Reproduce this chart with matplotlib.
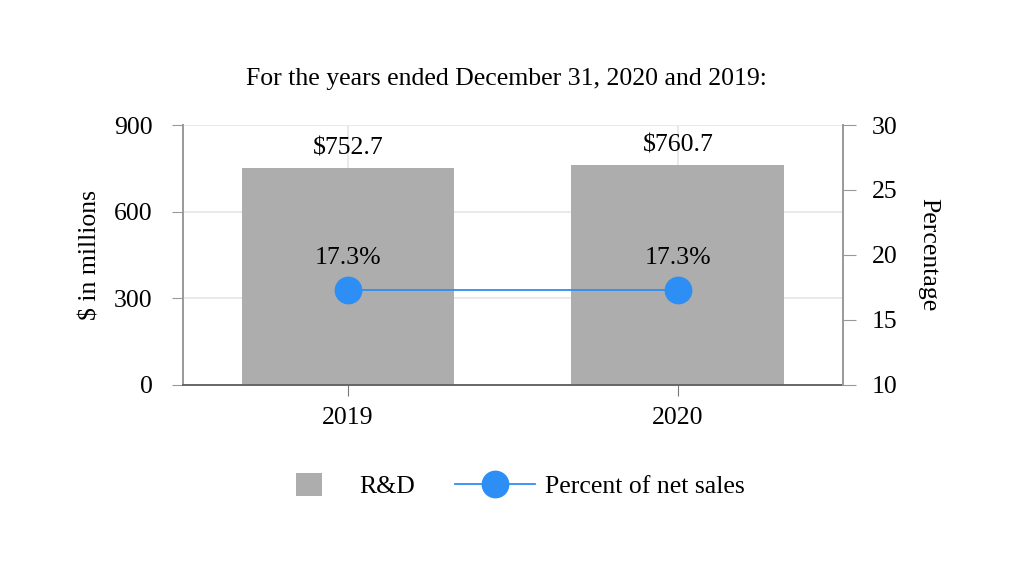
import numpy as np
import matplotlib.pyplot as plt
from matplotlib.patches import Patch
from matplotlib.lines import Line2D

plt.rcParams['font.family'] = ['Liberation Serif', 'DejaVu Serif']

years = ['2019', '2020']
rd_values = [752.7, 760.7]
pct_values = [17.3, 17.3]
rd_labels = ['$752.7', '$760.7']
pct_labels = ['17.3%', '17.3%']

bar_color = '#adadad'
line_color = '#2d8ff5'
fs = 18.5

fig = plt.figure(figsize=(10.12, 5.70), dpi=100)
ax = fig.add_axes([0.1808, 0.3246, 0.652, 0.4561])
x = np.arange(len(years))

ax.bar(x, rd_values, width=0.645, color=bar_color, zorder=2)
ax.set_xlim(-0.5, 1.5)
ax.set_ylim(0, 900)
ax.set_yticks([0, 300, 600, 900])
ax.set_xticks(x)
ax.set_xticklabels(years)
ax.grid(True, color='#e6e6e6', linewidth=1.2, zorder=0)
ax.set_axisbelow(True)

for xi, v, lab in zip(x, rd_values, rd_labels):
    ax.annotate(lab, (xi, v), xytext=(0, 6), textcoords='offset points',
                ha='center', va='bottom', fontsize=fs)

ax.set_ylabel('$ in millions', fontsize=fs, labelpad=9)
ax.tick_params(axis='y', labelsize=fs, length=8, color='#999999', pad=14)
ax.tick_params(axis='x', labelsize=fs, length=8, color='#777777', pad=8)
for s in ['top', 'right']:
    ax.spines[s].set_visible(False)
ax.spines['left'].set_color('#999999')
ax.spines['left'].set_linewidth(1.4)
ax.spines['bottom'].set_color('#666666')
ax.spines['bottom'].set_linewidth(1.4)

ax2 = ax.twinx()
ax2.plot(x, pct_values, color=line_color, linewidth=1.3, marker='o',
         markersize=19, markerfacecolor=line_color, markeredgecolor=line_color, zorder=3)
ax2.set_ylim(10, 30)
ax2.set_yticks([10, 15, 20, 25, 30])
ax2.tick_params(axis='y', labelsize=fs, length=9, color='#999999', pad=12)
for s in ['top', 'left', 'bottom']:
    ax2.spines[s].set_visible(False)
ax2.spines['right'].set_color('#999999')
ax2.spines['right'].set_linewidth(1.4)
ax2.set_ylabel('Percentage', fontsize=fs, rotation=270, labelpad=30)

for xi, v, lab in zip(x, pct_values, pct_labels):
    ax2.annotate(lab, (xi, v), xytext=(0, 15), textcoords='offset points',
                 ha='center', va='bottom', fontsize=fs)

fig.text(0.5, 0.862, 'For the years ended December 31, 2020 and 2019:',
         ha='center', va='center', fontsize=fs)

# legend: two pieces so the square and the line can have their own widths
leg1 = fig.legend([Patch(facecolor=bar_color, edgecolor='none')], ['R&D'],
                  loc='center', bbox_to_anchor=(0.351, 0.148), frameon=False,
                  fontsize=fs, handlelength=1.01, handleheight=1.01,
                  handletextpad=1.45)
leg2 = fig.legend([Line2D([0], [0], color=line_color, linewidth=1.3, marker='o',
                          markersize=19, markerfacecolor=line_color)],
                  ['Percent of net sales'], loc='center',
                  bbox_to_anchor=(0.593, 0.146), frameon=False, fontsize=fs,
                  handlelength=3.1, handletextpad=0.39)

fig.savefig('out.png', dpi=100)
